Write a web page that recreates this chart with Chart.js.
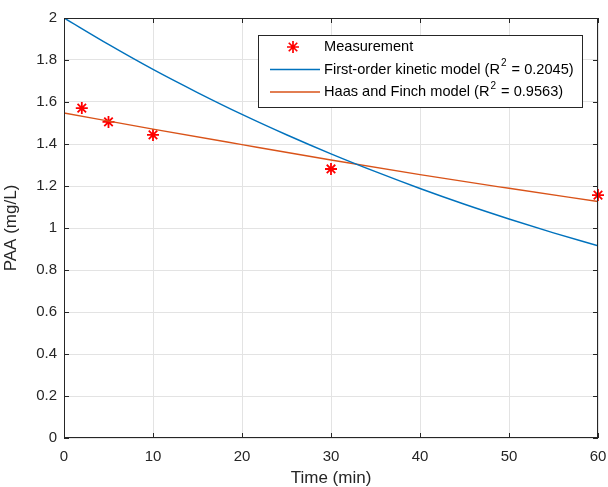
<!DOCTYPE html>
<html>
<head>
<meta charset="utf-8">
<script src="https://cdn.jsdelivr.net/npm/chart.js@4/dist/chart.umd.min.js"></script>
<style>
html,body{margin:0;padding:0;background:#fff;}
#wrap{width:608px;height:487px;position:relative;}
</style>
</head>
<body>
<div id="wrap"><canvas id="c" width="608" height="487"></canvas></div>
<script>
// Measurement data
const measTimes = [2, 5, 10, 30, 60];
const measValues = [1.571, 1.505, 1.443, 1.281, 1.157];
// First-order kinetic model curve
const kinTimes = [0, 5, 10, 15, 20, 25, 30, 35, 40, 45, 50, 55, 60];
const kinValues = [2.0, 1.874, 1.755, 1.645, 1.541, 1.444, 1.353, 1.268, 1.188, 1.113, 1.043, 0.977, 0.915];
// Haas and Finch model curve
const haasTimes = [0, 10, 20, 30, 40, 50, 60];
const haasValues = [1.548, 1.471, 1.397, 1.324, 1.254, 1.189, 1.126];

const legendLabels = [
  ['Measurement', '', ''],
  ['First-order kinetic model (R', '2', ' = 0.2045)'],
  ['Haas and Finch model (R', '2', ' = 0.9563)']
];

const FONT = '"Liberation Sans", Arial, Helvetica, sans-serif';
const AX = '#262626';
const BLUE = '#0072BD', ORANGE = '#D95319', RED = '#FF0000';

const toXY = (xs, ys) => xs.map((x, i) => ({x: x, y: ys[i]}));

const framePlugin = {
  id: 'frame',
  afterDraw(chart) {
    const {ctx, chartArea: a, scales} = chart;
    ctx.save();
    ctx.strokeStyle = AX;
    ctx.lineWidth = 1;
    ctx.strokeRect(a.left + 0.5, a.top + 0.5, a.right - a.left - 1, a.bottom - a.top - 1);
    const tl = 5;
    ctx.beginPath();
    scales.x.ticks.forEach(t => {
      const px = Math.round(scales.x.getPixelForValue(t.value)) + 0.5;
      ctx.moveTo(px, a.bottom); ctx.lineTo(px, a.bottom - tl);
      ctx.moveTo(px, a.top); ctx.lineTo(px, a.top + tl);
    });
    scales.y.ticks.forEach(t => {
      const py = Math.round(scales.y.getPixelForValue(t.value)) + 0.5;
      ctx.moveTo(a.left, py); ctx.lineTo(a.left + tl, py);
      ctx.moveTo(a.right, py); ctx.lineTo(a.right - tl, py);
    });
    ctx.stroke();

    // legend box
    const bx = 258.5, by = 35.5, bw = 324, bh = 72;
    ctx.fillStyle = '#fff';
    ctx.fillRect(bx, by, bw, bh);
    ctx.strokeStyle = '#262626';
    ctx.strokeRect(bx, by, bw, bh);
    const rows = [47, 69.5, 92];
    // star marker
    const sx = 293, sy = rows[0], r = 6;
    ctx.strokeStyle = RED; ctx.lineWidth = 1.7;
    ctx.beginPath();
    ctx.moveTo(sx - r, sy); ctx.lineTo(sx + r, sy);
    ctx.moveTo(sx, sy - r); ctx.lineTo(sx, sy + r);
    const d = r * 0.707;
    ctx.moveTo(sx - d, sy - d); ctx.lineTo(sx + d, sy + d);
    ctx.moveTo(sx - d, sy + d); ctx.lineTo(sx + d, sy - d);
    ctx.stroke();
    ctx.lineWidth = 1.5;
    ctx.strokeStyle = BLUE;
    ctx.beginPath(); ctx.moveTo(270, rows[1]); ctx.lineTo(320, rows[1]); ctx.stroke();
    ctx.strokeStyle = ORANGE;
    ctx.beginPath(); ctx.moveTo(270, rows[2]); ctx.lineTo(320, rows[2]); ctx.stroke();
    ctx.fillStyle = '#000';
    ctx.textBaseline = 'middle';
    legendLabels.forEach((parts, i) => {
      let x = 324;
      ctx.font = '14.6px ' + FONT;
      ctx.fillText(parts[0], x, rows[i]);
      x += ctx.measureText(parts[0]).width + 1;
      if (parts[1]) {
        ctx.font = '10px ' + FONT;
        ctx.fillText(parts[1], x, rows[i] - 6);
        x += ctx.measureText(parts[1]).width + 1;
        ctx.font = '14.6px ' + FONT;
        ctx.fillText(parts[2], x, rows[i]);
      }
    });
    ctx.restore();
  }
};

new Chart(document.getElementById('c'), {
  type: 'scatter',
  data: {
    datasets: [
      {
        label: 'First-order kinetic model',
        data: toXY(kinTimes, kinValues),
        showLine: true, borderColor: BLUE, borderWidth: 1.4,
        pointRadius: 0, cubicInterpolationMode: 'monotone', fill: false
      },
      {
        label: 'Haas and Finch model',
        data: toXY(haasTimes, haasValues),
        showLine: true, borderColor: ORANGE, borderWidth: 1.4,
        pointRadius: 0, cubicInterpolationMode: 'monotone', fill: false
      },
      {
        label: 'Measurement',
        data: toXY(measTimes, measValues),
        showLine: false, pointStyle: 'star', pointRadius: 6,
        borderColor: RED, backgroundColor: RED, pointBorderWidth: 1.8,
        clip: false
      }
    ]
  },
  options: {
    responsive: false,
    animation: false,
    devicePixelRatio: 1,
    layout: {padding: {left: 0, top: 18, right: 10, bottom: 0}},
    plugins: {legend: {display: false}, tooltip: {enabled: false}},
    scales: {
      x: {
        type: 'linear', min: 0, max: 60,
        afterFit(s) { s.height = 49; s.paddingLeft = 0; s.paddingRight = 0; },
        ticks: {stepSize: 10, color: '#262626', font: {family: FONT, size: 15}, padding: 10, maxRotation: 0},
        grid: {color: '#e3e3e3', drawTicks: false},
        border: {display: false},
        title: {display: true, text: 'Time (min)', color: '#262626', font: {family: FONT, size: 17}, padding: {top: 0, bottom: -2}}
      },
      y: {
        type: 'linear', min: 0, max: 2,
        afterFit(s) { s.width = 64; s.paddingTop = 0; s.paddingBottom = 0; },
        ticks: {stepSize: 0.2, color: '#262626', font: {family: FONT, size: 15}, padding: 7,
          callback: v => String(parseFloat(v.toFixed(2)))},
        grid: {color: '#e3e3e3', drawTicks: false},
        border: {display: false},
        title: {display: true, text: 'PAA (mg/L)', color: '#262626', font: {family: FONT, size: 17}, padding: {top: 1, bottom: 0}}
      }
    }
  },
  plugins: [framePlugin]
});
</script>
</body>
</html>
